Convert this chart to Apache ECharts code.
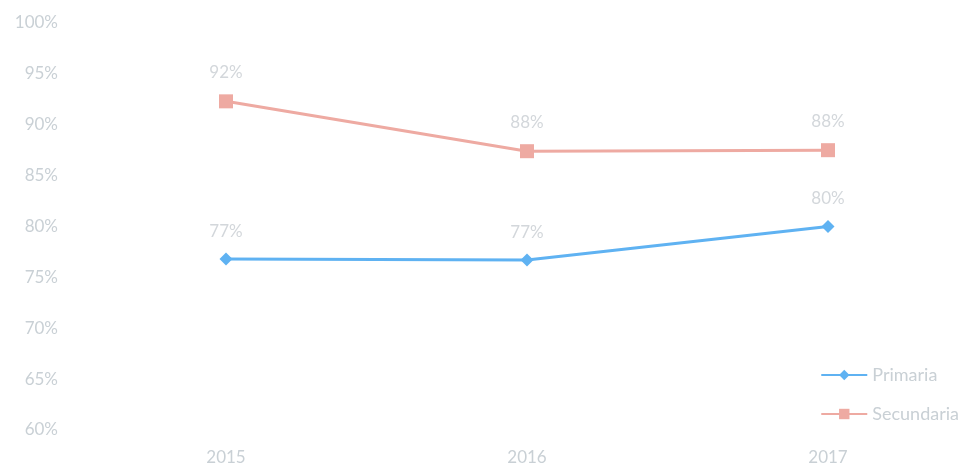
<!DOCTYPE html>
<html>
<head>
<meta charset="utf-8">
<script src="https://cdn.jsdelivr.net/npm/echarts@6/dist/echarts.min.js"></script>
<style>
  html, body { margin: 0; padding: 0; background: #fff; }
  #chart { width: 967px; height: 469px; }
</style>
</head>
<body>
<div id="chart"></div>
<script>
// datos
const years = ["2015", "2016", "2017"];
const primaria = [76.8, 76.7, 80.0];
const secundaria = [92.3, 87.4, 87.5];
// etiquetas tal como aparecen en el gráfico original
const primariaLabels = ["77%", "77%", "80%"];
const secundariaLabels = ["92%", "88%", "88%"];

const chart = echarts.init(document.getElementById("chart"));
const labelColor = "#c9d0d5";

const option = {
  animation: false,
  grid: { left: 226, right: 139, top: 23, bottom: 39 },
  legend: {
    orient: "vertical",
    right: 3,
    top: 361,
    itemGap: 21,
    itemWidth: 46,
    itemHeight: 13,
    textStyle: { color: labelColor, fontSize: 18, fontFamily: "Lato" },
    data: ["Primaria", "Secundaria"]
  },
  xAxis: {
    type: "category",
    data: years,
    boundaryGap: false,
    axisLine: { show: false },
    axisTick: { show: false },
    axisLabel: { color: labelColor, fontSize: 17, fontFamily: "Lato", margin: 19 }
  },
  yAxis: {
    type: "value",
    min: 60,
    max: 100,
    interval: 5,
    splitLine: { show: false },
    axisLine: { show: false },
    axisTick: { show: false },
    axisLabel: {
      color: labelColor,
      fontSize: 17,
      fontFamily: "Lato",
      margin: 168,
      formatter: "{value}%"
    }
  },
  series: [
    {
      name: "Primaria",
      type: "line",
      data: primaria,
      symbol: "diamond",
      symbolSize: 13,
      lineStyle: { color: "#5fb2f2", width: 3 },
      itemStyle: { color: "#5fb2f2" },
      label: {
        show: true,
        position: "top",
        distance: 13,
        color: "#d3d7db",
        fontSize: 17,
        fontFamily: "Lato",
        formatter: p => primariaLabels[p.dataIndex]
      }
    },
    {
      name: "Secundaria",
      type: "line",
      data: secundaria,
      symbol: "rect",
      symbolSize: 14,
      lineStyle: { color: "#eeaaa2", width: 3 },
      itemStyle: { color: "#eeaaa2" },
      label: {
        show: true,
        position: "top",
        distance: 13,
        color: "#d3d7db",
        fontSize: 17,
        fontFamily: "Lato",
        formatter: p => secundariaLabels[p.dataIndex]
      }
    }
  ]
};

chart.setOption(option);
window.addEventListener("resize", () => chart.resize());
</script>
</body>
</html>
